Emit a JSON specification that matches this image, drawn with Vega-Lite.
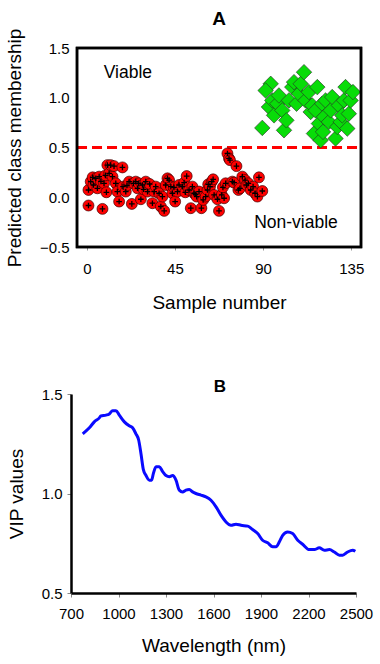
{
  "$schema": "https://vega.github.io/schema/vega-lite/v6.json",
  "background": "white",
  "padding": {"left": 5, "top": 10, "right": 5, "bottom": 5},
  "config": {
    "font": "Liberation Sans",
    "axis": {
      "grid": false,
      "labelFontSize": 15,
      "titleFontSize": 19,
      "titleFontWeight": "normal",
      "labelColor": "black",
      "titleColor": "black",
      "labelFont": "Liberation Sans",
      "titleFont": "Liberation Sans",
      "labelFlush": false,
      "labelOverlap": false,
      "labelBound": false
    },
    "title": {"font": "Liberation Sans", "color": "black"}
  },
  "datasets": {
    "nonviable": [
      {"sample": 0.85, "value": -0.083}, {"sample": 0.85, "value": 0.073}, {"sample": 2.0, "value": 0.157},
      {"sample": 3.0, "value": 0.2}, {"sample": 3.4, "value": 0.123}, {"sample": 4.6, "value": 0.19},
      {"sample": 5.4, "value": 0.09}, {"sample": 6.3, "value": 0.207}, {"sample": 7.2, "value": 0.16},
      {"sample": 8.0, "value": -0.117}, {"sample": 8.8, "value": 0.14}, {"sample": 9.5, "value": 0.22},
      {"sample": 10.0, "value": 0.05}, {"sample": 10.5, "value": 0.323}, {"sample": 11.4, "value": 0.24},
      {"sample": 12.2, "value": 0.323}, {"sample": 13.1, "value": 0.207}, {"sample": 13.9, "value": 0.313},
      {"sample": 14.8, "value": 0.14}, {"sample": 15.6, "value": 0.057}, {"sample": 16.5, "value": -0.043},
      {"sample": 18.2, "value": 0.3}, {"sample": 18.5, "value": 0.107}, {"sample": 19.9, "value": 0.057},
      {"sample": 20.5, "value": 0.12}, {"sample": 21.6, "value": 0.157}, {"sample": 23.0, "value": -0.067},
      {"sample": 23.8, "value": 0.14}, {"sample": 25.0, "value": 0.157}, {"sample": 25.9, "value": 0.09},
      {"sample": 26.5, "value": 0.14}, {"sample": 27.6, "value": -0.02}, {"sample": 28.4, "value": 0.123},
      {"sample": 29.0, "value": 0.08}, {"sample": 30.1, "value": 0.157}, {"sample": 31.0, "value": 0.057},
      {"sample": 32.1, "value": 0.133}, {"sample": 33.5, "value": -0.06}, {"sample": 34.4, "value": 0.057},
      {"sample": 35.2, "value": 0.107}, {"sample": 36.9, "value": 0.04}, {"sample": 37.8, "value": -0.093},
      {"sample": 38.6, "value": 0.007}, {"sample": 39.5, "value": -0.137}, {"sample": 40.3, "value": 0.123},
      {"sample": 41.2, "value": 0.19}, {"sample": 42.0, "value": 0.173}, {"sample": 42.9, "value": 0.107},
      {"sample": 43.7, "value": 0.04}, {"sample": 44.5, "value": 0.1}, {"sample": 45.1, "value": -0.043},
      {"sample": 46.3, "value": 0.057}, {"sample": 47.1, "value": 0.123}, {"sample": 48.8, "value": 0.107},
      {"sample": 49.7, "value": 0.147}, {"sample": 50.3, "value": 0.05}, {"sample": 51.0, "value": 0.213},
      {"sample": 52.2, "value": 0.073}, {"sample": 53.1, "value": -0.11}, {"sample": 53.9, "value": 0.107},
      {"sample": 54.8, "value": 0.04}, {"sample": 55.5, "value": 0.03}, {"sample": 56.1, "value": 0.007},
      {"sample": 57.3, "value": 0.057}, {"sample": 58.5, "value": -0.11}, {"sample": 59.4, "value": -0.027},
      {"sample": 60.7, "value": 0.007}, {"sample": 61.6, "value": 0.073}, {"sample": 62.0, "value": 0.13},
      {"sample": 62.9, "value": 0.107}, {"sample": 63.8, "value": 0.157}, {"sample": 64.5, "value": 0.18},
      {"sample": 65.0, "value": 0.023}, {"sample": 66.7, "value": -0.02}, {"sample": 67.5, "value": -0.137},
      {"sample": 68.9, "value": 0.023}, {"sample": 69.5, "value": 0.1}, {"sample": 70.1, "value": -0.01},
      {"sample": 70.9, "value": 0.14}, {"sample": 71.8, "value": 0.44}, {"sample": 72.6, "value": 0.39},
      {"sample": 73.1, "value": 0.373}, {"sample": 74.3, "value": 0.157}, {"sample": 75.2, "value": 0.147},
      {"sample": 76.4, "value": 0.313}, {"sample": 77.4, "value": 0.073}, {"sample": 78.2, "value": 0.09},
      {"sample": 79.4, "value": 0.207}, {"sample": 80.8, "value": 0.173}, {"sample": 81.5, "value": 0.123},
      {"sample": 82.5, "value": 0.14}, {"sample": 83.7, "value": 0.073}, {"sample": 84.9, "value": 0.107},
      {"sample": 85.9, "value": 0.04}, {"sample": 87.1, "value": 0.007}, {"sample": 87.9, "value": 0.2},
      {"sample": 89.6, "value": 0.063}
    ],
    "viable": [
      {"sample": 89.6, "value": 0.697}, {"sample": 93.9, "value": 1.14}, {"sample": 91.3, "value": 1.073},
      {"sample": 93.0, "value": 0.907}, {"sample": 94.7, "value": 0.973}, {"sample": 95.6, "value": 0.823},
      {"sample": 97.3, "value": 0.94}, {"sample": 98.1, "value": 1.023}, {"sample": 99.8, "value": 0.873},
      {"sample": 100.7, "value": 0.673}, {"sample": 101.9, "value": 0.773}, {"sample": 103.2, "value": 0.973},
      {"sample": 104.9, "value": 1.107}, {"sample": 105.8, "value": 1.157}, {"sample": 107.1, "value": 0.94},
      {"sample": 108.3, "value": 1.04}, {"sample": 109.2, "value": 1.14}, {"sample": 110.9, "value": 1.257},
      {"sample": 111.7, "value": 0.973}, {"sample": 113.4, "value": 1.057}, {"sample": 114.3, "value": 0.857},
      {"sample": 115.1, "value": 0.923}, {"sample": 116.0, "value": 0.64}, {"sample": 116.8, "value": 0.873},
      {"sample": 117.7, "value": 1.107}, {"sample": 118.5, "value": 0.74}, {"sample": 119.4, "value": 0.573},
      {"sample": 120.2, "value": 0.94}, {"sample": 120.6, "value": 0.657}, {"sample": 121.1, "value": 0.807},
      {"sample": 121.9, "value": 0.973}, {"sample": 123.6, "value": 0.757}, {"sample": 124.5, "value": 0.873},
      {"sample": 125.3, "value": 1.007}, {"sample": 127.0, "value": 0.59}, {"sample": 127.9, "value": 0.707},
      {"sample": 128.7, "value": 0.923}, {"sample": 129.6, "value": 0.757}, {"sample": 130.4, "value": 0.823},
      {"sample": 131.3, "value": 0.973}, {"sample": 132.1, "value": 1.107}, {"sample": 133.0, "value": 0.69},
      {"sample": 133.8, "value": 0.84}, {"sample": 134.7, "value": 0.973}, {"sample": 135.9, "value": 1.057}
    ],
    "labels": [
      {"sample": 21, "value": 1.25, "label": "Viable"},
      {"sample": 106.8, "value": -0.26, "label": "Non-viable"}
    ],
    "vip": [
      {"wl": 774, "vip": 1.30}, {"wl": 816, "vip": 1.33}, {"wl": 847, "vip": 1.36}, {"wl": 879, "vip": 1.38},
      {"wl": 889, "vip": 1.39}, {"wl": 921, "vip": 1.394}, {"wl": 942, "vip": 1.40}, {"wl": 963, "vip": 1.416},
      {"wl": 984, "vip": 1.416}, {"wl": 1005, "vip": 1.394}, {"wl": 1037, "vip": 1.36}, {"wl": 1068, "vip": 1.34},
      {"wl": 1089, "vip": 1.33}, {"wl": 1110, "vip": 1.30}, {"wl": 1127, "vip": 1.27}, {"wl": 1142, "vip": 1.20},
      {"wl": 1157, "vip": 1.12}, {"wl": 1174, "vip": 1.09}, {"wl": 1195, "vip": 1.067}, {"wl": 1209, "vip": 1.067},
      {"wl": 1220, "vip": 1.10}, {"wl": 1237, "vip": 1.134}, {"wl": 1258, "vip": 1.134}, {"wl": 1279, "vip": 1.11},
      {"wl": 1300, "vip": 1.09}, {"wl": 1321, "vip": 1.084}, {"wl": 1342, "vip": 1.09}, {"wl": 1363, "vip": 1.067},
      {"wl": 1384, "vip": 1.017}, {"wl": 1405, "vip": 1.008}, {"wl": 1426, "vip": 1.017}, {"wl": 1447, "vip": 1.02},
      {"wl": 1468, "vip": 1.008}, {"wl": 1489, "vip": 1.0}, {"wl": 1521, "vip": 0.992}, {"wl": 1552, "vip": 0.983},
      {"wl": 1584, "vip": 0.966}, {"wl": 1616, "vip": 0.933}, {"wl": 1647, "vip": 0.891}, {"wl": 1679, "vip": 0.857},
      {"wl": 1710, "vip": 0.84}, {"wl": 1742, "vip": 0.846}, {"wl": 1774, "vip": 0.84}, {"wl": 1816, "vip": 0.836},
      {"wl": 1847, "vip": 0.819}, {"wl": 1879, "vip": 0.799}, {"wl": 1910, "vip": 0.765}, {"wl": 1942, "vip": 0.752},
      {"wl": 1974, "vip": 0.732}, {"wl": 1995, "vip": 0.732}, {"wl": 2016, "vip": 0.757}, {"wl": 2037, "vip": 0.79},
      {"wl": 2068, "vip": 0.807}, {"wl": 2100, "vip": 0.799}, {"wl": 2132, "vip": 0.765}, {"wl": 2163, "vip": 0.745},
      {"wl": 2205, "vip": 0.718}, {"wl": 2237, "vip": 0.718}, {"wl": 2268, "vip": 0.727}, {"wl": 2300, "vip": 0.715},
      {"wl": 2332, "vip": 0.718}, {"wl": 2363, "vip": 0.706}, {"wl": 2395, "vip": 0.69}, {"wl": 2416, "vip": 0.69},
      {"wl": 2447, "vip": 0.706}, {"wl": 2479, "vip": 0.715}, {"wl": 2496, "vip": 0.71}
    ]
  },
  "columns": 1,
  "spacing": 66,
  "concat": [
    {
      "width": 290,
      "height": 199,
      "title": {"text": "A", "fontSize": 19, "fontWeight": "bold", "anchor": "middle", "baseline": "alphabetic", "offset": -16, "dx": 3},
      "view": {"stroke": null},
      "encoding": {
        "x": {
          "field": "sample", "type": "quantitative",
          "scale": {"domain": [-8.07, 140], "nice": false, "zero": false},
          "axis": {"values": [0, 45, 90, 135], "title": "Sample number", "domain": false, "tickColor": "#999999", "tickSize": 3, "labelPadding": 11, "titlePadding": 17, "titleX": 148}
        },
        "y": {
          "field": "value", "type": "quantitative",
          "scale": {"domain": [-0.5, 1.5], "nice": false, "zero": false},
          "axis": {"values": [-0.5, 0, 0.5, 1, 1.5], "format": ".1f", "title": "Predicted class membership", "domain": false, "tickSize": 0, "labelPadding": 2, "titlePadding": 15}
        }
      },
      "layer": [
        {
          "data": {"name": "labels"},
          "mark": {"type": "rule", "color": "#ff0000", "strokeWidth": 3, "strokeDash": [10, 5]},
          "encoding": {"y": {"datum": 0.5}, "x": {"datum": -5}, "x2": {"datum": 140}}
        },
        {
          "data": {"name": "nonviable"},
          "mark": {"type": "point", "shape": "circle", "filled": true, "size": 120, "fill": "#ff0000", "stroke": "#400000", "strokeWidth": 0.7, "opacity": 1}
        },
        {
          "data": {"name": "nonviable"},
          "mark": {"type": "point", "shape": "M-1,0H1M0,-1V1", "filled": false, "size": 32, "stroke": "black", "strokeWidth": 1.3, "opacity": 1}
        },
        {
          "data": {"name": "viable"},
          "mark": {"type": "point", "shape": "diamond", "filled": true, "size": 240, "fill": "#08dc08", "stroke": "#2a2a2a", "strokeWidth": 0.6, "opacity": 1}
        },
        {
          "data": {"name": "labels"},
          "mark": {"type": "text", "fontSize": 17.5, "color": "black", "align": "center", "baseline": "middle"},
          "encoding": {"text": {"field": "label"}}
        },
        {
          "data": {"name": "labels"},
          "mark": {"type": "rect", "fill": null, "filled": false, "stroke": "black", "strokeWidth": 2.5},
          "encoding": {"x": {"datum": -5}, "x2": {"datum": 140}, "y": {"datum": -0.5}, "y2": {"datum": 1.5}}
        }
      ]
    },
    {
      "width": 285,
      "height": 199,
      "title": {"text": "B", "fontSize": 17, "fontWeight": "bold", "anchor": "middle", "baseline": "alphabetic", "offset": -22, "dx": 6.5},
      "view": {"stroke": null},
      "encoding": {
        "x": {
          "field": "wl", "type": "quantitative",
          "scale": {"domain": [700, 2500], "nice": false, "zero": false},
          "axis": {"values": [700, 1000, 1300, 1600, 1900, 2200, 2500], "format": "d", "title": "Wavelength (nm)", "domain": true, "domainColor": "black", "domainWidth": 2.5, "tickColor": "#888888", "tickSize": 4, "labelPadding": 9, "titlePadding": 15}
        },
        "y": {
          "field": "vip", "type": "quantitative",
          "scale": {"domain": [0.5, 1.5], "nice": false, "zero": false},
          "axis": {"values": [0.5, 1, 1.5], "format": ".1f", "title": "VIP values", "domain": true, "domainColor": "black", "domainWidth": 2.5, "tickColor": "#888888", "tickSize": 4, "labelPadding": 5, "titlePadding": 14.5}
        }
      },
      "layer": [
        {
          "data": {"name": "vip"},
          "mark": {"type": "line", "color": "#0a0aff", "strokeWidth": 3, "interpolate": "monotone"}
        },
        {
          "data": {"name": "labels"},
          "mark": {"type": "rule", "color": "#ff0000", "strokeWidth": 3, "strokeDash": [9, 5]},
          "encoding": {"y": {"datum": 1}, "x": null}
        }
      ]
    }
  ]
}
